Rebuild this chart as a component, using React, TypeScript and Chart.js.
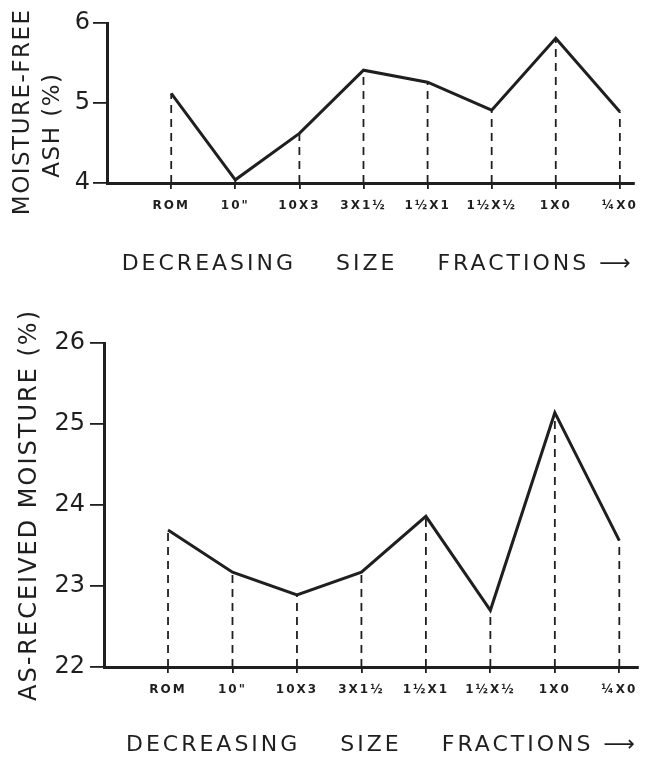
import React, { useEffect, useRef } from 'react';
import { Chart, registerables } from 'chart.js';
Chart.register(...registerables);

const categories = ['ROM', '10"', '10X3', '3X1½', '1½X1', '1½X½', '1X0', '¼X0'];
const ashValues = [5.12, 4.04, 4.62, 5.41, 5.26, 4.91, 5.81, 4.89];
const moistureValues = [23.69, 23.17, 22.89, 23.17, 23.86, 22.7, 25.14, 23.56];
const ashTicks = [4, 5, 6];
const moistureTicks = [22, 23, 24, 25, 26];
const xTitle = 'DECREASING    SIZE    FRACTIONS ⟶';
const ashTitle = ['MOISTURE-FREE  ', 'ASH (%)     '];
const moistureTitle = 'AS-RECEIVED MOISTURE (%)';

const INK = '#1f1f1f';
const FONT = '"DejaVu Sans", sans-serif';

type Geo = {
  height: number;
  plotTop: number;
  plotBottom: number;
  axisX: number;
  padRight: number;
  xMin: number;
  xMax: number;
  yTitlePad: number;
  yTitleSize: number;
  yTitleLH: number;
  yTitleSpacing: string;
  xTitlePad: number;
  yTickPad: number;
};

function withSpacing(s: any, titleSpacing: string, labelSpacing: string) {
  if (s.__spaced) return;
  s.__spaced = true;
  const origTitle = s.drawTitle;
  const origLabels = s.drawLabels;
  s.drawTitle = function (...args: any[]) {
    const c = this.ctx;
    const prev = c.letterSpacing;
    c.letterSpacing = titleSpacing;
    origTitle.apply(this, args);
    c.letterSpacing = prev;
  };
  s.drawLabels = function (...args: any[]) {
    const c = this.ctx;
    const prev = c.letterSpacing;
    c.letterSpacing = labelSpacing;
    origLabels.apply(this, args);
    c.letterSpacing = prev;
  };
}

function makeConfig(values: number[], yTicks: number[], yTitle: string | string[], g: Geo): any {
  const yMin = yTicks[0];
  const yMax = yTicks[yTicks.length - 1];
  const datasets: any[] = [
    {
      data: values.map((v, i) => ({ x: i, y: v })),
      borderColor: INK,
      borderWidth: 3,
      pointRadius: 0,
      tension: 0,
      order: 0,
    },
  ];
  values.forEach((v, i) => {
    datasets.push({
      data: [
        { x: i, y: yMin },
        { x: i, y: v },
      ],
      borderColor: INK,
      borderWidth: 1.8,
      borderDash: [8, 6],
      pointRadius: 0,
      order: 1,
    });
  });
  return {
    type: 'line',
    data: { datasets },
    options: {
      responsive: false,
      animation: false,
      events: [],
      layout: { padding: { top: g.plotTop, right: g.padRight, left: 0, bottom: 0 } },
      plugins: { legend: { display: false }, tooltip: { enabled: false }, title: { display: false } },
      scales: {
        x: {
          type: 'linear',
          min: g.xMin,
          max: g.xMax,
          afterBuildTicks: (s: any) => {
            s.ticks = categories.map((_, i) => ({ value: i }));
          },
          afterFit: (s: any) => {
            s.height = g.height - g.plotBottom;
            withSpacing(s, '3px', '2px');
          },
          ticks: {
            autoSkip: false,
            maxRotation: 0,
            minRotation: 0,
            padding: 10,
            color: INK,
            font: { family: FONT, size: 12, weight: 'bold' },
            callback: (v: any) => categories[v] ?? '',
          },
          grid: { drawOnChartArea: false, drawTicks: true, tickLength: 6, color: INK, lineWidth: 1.8 },
          border: { display: true, color: INK, width: 3 },
          title: {
            display: true,
            text: xTitle,
            align: 'end',
            color: INK,
            font: { family: FONT, size: 22, lineHeight: 1.2 },
            padding: { top: 0, bottom: g.xTitlePad },
          },
        },
        y: {
          type: 'linear',
          min: yMin,
          max: yMax,
          afterBuildTicks: (s: any) => {
            s.ticks = yTicks.map((v) => ({ value: v }));
          },
          afterFit: (s: any) => {
            s.width = g.axisX;
            withSpacing(s, g.yTitleSpacing, '0px');
          },
          ticks: {
            padding: g.yTickPad,
            color: INK,
            font: { family: FONT, size: 24 },
          },
          grid: { drawOnChartArea: false, drawTicks: true, tickLength: 14, color: INK, lineWidth: 1.8 },
          border: { display: true, color: INK, width: 3 },
          title: {
            display: true,
            text: yTitle,
            color: INK,
            font: { family: FONT, size: g.yTitleSize, lineHeight: g.yTitleLH },
            padding: { top: g.yTitlePad, bottom: 0 },
          },
        },
      },
    },
  };
}

const topGeo: Geo = {
  height: 300,
  plotTop: 23,
  plotBottom: 183,
  axisX: 107,
  padRight: 5,
  xMin: -1.002,
  xMax: 7.216,
  yTitlePad: 8,
  yTitleSize: 23,
  yTitleLH: 30 / 23,
  yTitleSpacing: '1.5px',
  xTitlePad: 23,
  yTickPad: 3,
};

const bottomGeo: Geo = {
  height: 459,
  plotTop: 43,
  plotBottom: 367,
  axisX: 104,
  padRight: 7,
  xMin: -0.993,
  xMax: 7.29,
  yTitlePad: 15,
  yTitleSize: 24,
  yTitleLH: 1.2,
  yTitleSpacing: '2px',
  xTitlePad: 1,
  yTickPad: 5,
};

export default function App() {
  const topRef = useRef<HTMLCanvasElement>(null);
  const botRef = useRef<HTMLCanvasElement>(null);
  useEffect(() => {
    const c1 = new Chart(topRef.current as HTMLCanvasElement, makeConfig(ashValues, ashTicks, ashTitle, topGeo));
    const c2 = new Chart(
      botRef.current as HTMLCanvasElement,
      makeConfig(moistureValues, moistureTicks, moistureTitle, bottomGeo)
    );
    return () => {
      c1.destroy();
      c2.destroy();
    };
  }, []);
  return (
    <div style={{ position: 'absolute', left: 0, top: 0, width: 645, height: 759, background: '#fff', overflow: 'hidden' }}>
      <canvas
        ref={topRef}
        width={645}
        height={300}
        style={{ position: 'absolute', left: 0, top: 0, width: 645, height: 300, display: 'block' }}
      />
      <canvas
        ref={botRef}
        width={645}
        height={459}
        style={{ position: 'absolute', left: 0, top: 300, width: 645, height: 459, display: 'block' }}
      />
    </div>
  );
}
